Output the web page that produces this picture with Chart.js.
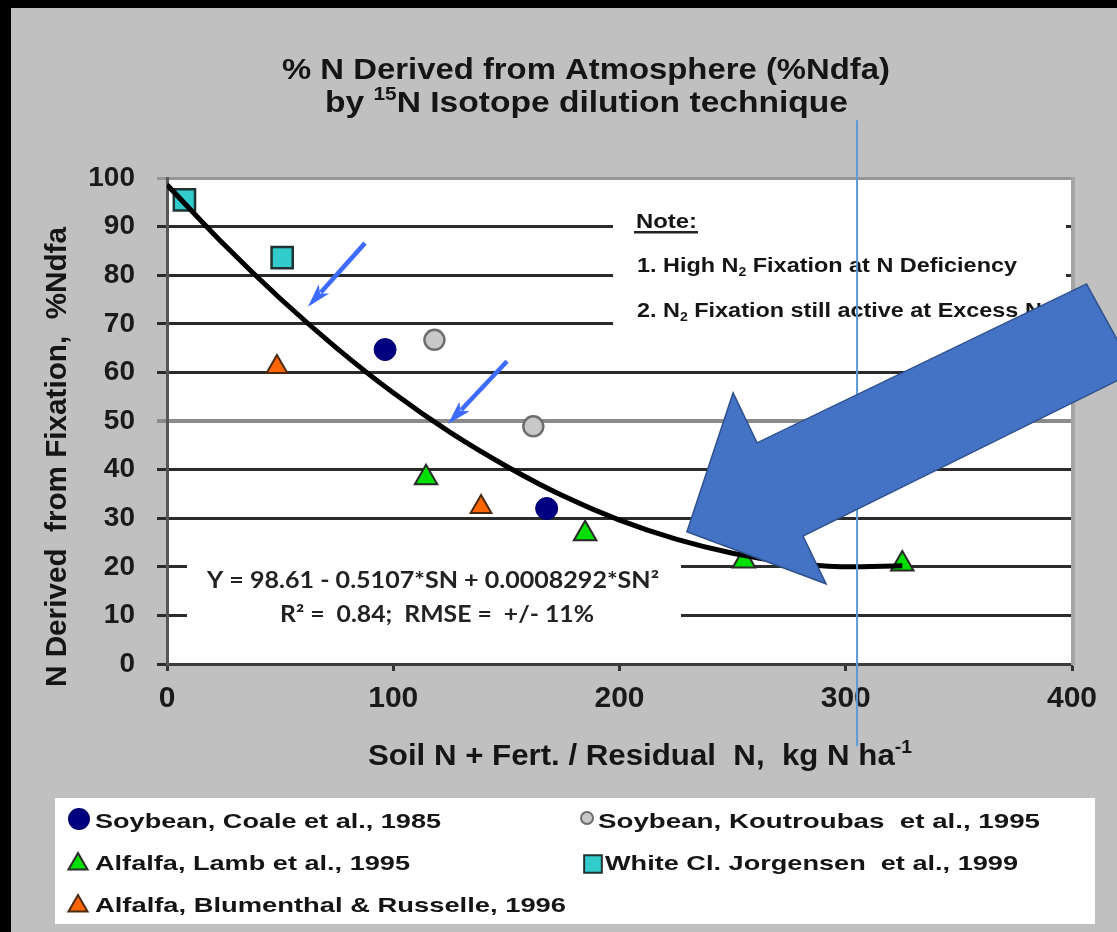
<!DOCTYPE html>
<html lang="en">
<head>
<meta charset="UTF-8">
<title>% N Derived from Atmosphere (%Ndfa)</title>
<style>
  html, body { margin: 0; padding: 0; background: #c0c0c0; overflow: hidden; }
</style>
</head>
<body>
<canvas id="myChart" width="1117" height="932"></canvas>
<script src="https://cdn.jsdelivr.net/npm/chart.js@4.4.1/dist/chart.umd.min.js"></script>
<script>
// values
const xTicks = [0, 100, 200, 300, 400];
const yTicks = [0, 10, 20, 30, 40, 50, 60, 70, 80, 90, 100];

// fitted curve as drawn (Y = 98.61 - 0.5107*SN + 0.0008292*SN^2)
const fitSN = [0, 25, 50, 75, 100, 125, 150, 175, 200, 225, 250, 275, 300, 325];
const fitNdfa = [98.6, 86.4, 75.2, 65.0, 55.8, 47.7, 40.7, 34.6, 29.6, 25.7, 22.8, 20.9, 20.0, 20.2];

const coaleSN = [96.4, 167.8];
const coaleNdfa = [64.7, 32.0];
const koutSN = [118.2, 161.9];
const koutNdfa = [66.7, 48.9];
const lambSN = [114.5, 184.8, 255, 325];
const lambNdfa = [38.3, 26.8, 21.2, 20.6];
const jorgSN = [7.7, 50.9];
const jorgNdfa = [95.5, 83.6];
const blumSN = [48.6, 138.8];
const blumNdfa = [61.1, 32.3];

const FONT = '"Liberation Sans", Arial, sans-serif';

function pts(xs, ys) {
    return xs.map((x, i) => ({ x: x, y: ys[i] }));
}

// draws text made of runs ['text', 'sup'|'sub'|''], stretched to a given width
function runsText(ctx, runs, x, y, o) {
    const fam = o.family || FONT;
    const setFont = k => {
        ctx.font = (o.weight || 'bold') + ' ' + (k ? Math.round(o.size * 0.62) : o.size) + 'px ' + fam;
    };
    let nat = 0;
    runs.forEach(r => { setFont(r[1]); nat += ctx.measureText(r[0]).width; });
    const sx = o.width != null ? o.width / nat : (o.sx || 1);
    ctx.save();
    ctx.translate(x, y);
    ctx.scale(sx, 1);
    ctx.fillStyle = o.color || '#151515';
    ctx.textAlign = 'left';
    ctx.textBaseline = 'alphabetic';
    let cx = 0;
    runs.forEach(r => {
        setFont(r[1]);
        const dy = r[1] === 'sup' ? -o.size * 0.4 : (r[1] === 'sub' ? o.size * 0.22 : 0);
        ctx.fillText(r[0], cx, dy);
        cx += ctx.measureText(r[0]).width;
    });
    ctx.restore();
    return sx;
}

function smallArrow(ctx, x1, y1, x2, y2) {
    const dx = x2 - x1, dy = y2 - y1;
    const len = Math.hypot(dx, dy);
    const ux = dx / len, uy = dy / len;
    const head = 24, half = 7;
    ctx.strokeStyle = '#3d6bff';
    ctx.fillStyle = '#3d6bff';
    ctx.lineWidth = 4.5;
    ctx.beginPath();
    ctx.moveTo(x1, y1);
    ctx.lineTo(x2 - ux * head * 0.8, y2 - uy * head * 0.8);
    ctx.stroke();
    ctx.beginPath();
    ctx.moveTo(x2, y2);
    ctx.lineTo(x2 - ux * head - uy * half, y2 - uy * head + ux * half);
    ctx.lineTo(x2 - ux * head * 0.75, y2 - uy * head * 0.75);
    ctx.lineTo(x2 - ux * head + uy * half, y2 - uy * head - ux * half);
    ctx.closePath();
    ctx.fill();
}

const slide = {
    id: 'slide',
    beforeDraw(chart) {
        const ctx = chart.ctx, a = chart.chartArea;
        ctx.save();
        ctx.fillStyle = '#c0c0c0';
        ctx.fillRect(0, 0, chart.width, chart.height);
        ctx.fillStyle = '#000';
        ctx.fillRect(0, 0, chart.width, 8);
        ctx.fillRect(0, 0, 11, chart.height);
        ctx.fillStyle = '#fff';
        ctx.fillRect(a.left, a.top, a.right - a.left, a.bottom - a.top);
        ctx.fillRect(55, 798, 1040, 126);
        ctx.restore();
    },
    beforeDatasetsDraw(chart) {
        const ctx = chart.ctx, a = chart.chartArea;
        ctx.save();
        // right frame of the plot
        ctx.fillStyle = '#a4a4a4';
        ctx.fillRect(a.right - 1, a.top - 1, 4, a.bottom - a.top + 2);

        // white text boxes
        ctx.fillStyle = '#fff';
        ctx.fillRect(613, 190, 453, 156);
        ctx.fillRect(187, 545, 494, 96);

        // title
        runsText(ctx, [['% N Derived from Atmosphere (%Ndfa)', '']], 282, 79, { size: 29, width: 608 });
        runsText(ctx, [['by ', ''], ['15', 'sup'], ['N Isotope dilution technique', '']], 325, 112, { size: 29, width: 523 });

        // axis titles
        runsText(ctx, [['Soil N + Fert. / Residual  N,  kg N ha', ''], ['-1', 'sup']], 368, 765, { size: 29, width: 544 });
        ctx.save();
        ctx.translate(66, 687);
        ctx.rotate(-Math.PI / 2);
        runsText(ctx, [['N Derived  from Fixation,  %Ndfa', '']], 0, 0, { size: 29, width: 460 });
        ctx.restore();

        // note
        runsText(ctx, [['Note:', '']], 636, 228, { size: 20, width: 61 });
        ctx.fillStyle = '#222';
        ctx.fillRect(634, 231, 64, 2.5);
        const sx = runsText(ctx, [['1. High N', ''], ['2', 'sub'], [' Fixation at N Deficiency', '']], 637, 272, { size: 20, width: 380 });
        runsText(ctx, [['2. N', ''], ['2', 'sub'], [' Fixation still active at Excess N', '']], 637, 317, { size: 20, sx: sx });

        // regression equation
        runsText(ctx, [['Y = 98.61 - 0.5107*SN + 0.0008292*SN\u00b2', '']], 207, 588, { size: 22, width: 452, family: 'Lato, sans-serif', color: '#222' });
        runsText(ctx, [['R\u00b2 =  0.84;  RMSE =  +/- 11%', '']], 280, 622, { size: 22, width: 314, family: 'Lato, sans-serif', color: '#222' });

        // legend
        const ds = chart.data.datasets;
        const items = [
            [1, 79, 819, 10, 95, 828, 346],
            [2, 587, 818, 6, 598, 828, 442],
            [3, 78, 864, 11, 95, 870, 315],
            [4, 593, 864, 12.5, 605, 870, 413],
            [5, 78, 906, 11, 95, 912, 471]
        ];
        items.forEach(it => {
            const d = ds[it[0]];
            ctx.fillStyle = d.backgroundColor;
            ctx.strokeStyle = d.borderColor;
            ctx.lineWidth = 2;
            Chart.helpers.drawPoint(ctx, { pointStyle: d.pointStyle, radius: it[3], rotation: 0, borderWidth: 2 }, it[1], it[2]);
            runsText(ctx, [[d.label, '']], it[4], it[5], { size: 21, width: it[6] });
        });
        ctx.restore();
    },
    afterDatasetsDraw(chart) {
        const ctx = chart.ctx;
        const xs = chart.scales.x, ys = chart.scales.y;
        const px = v => xs.getPixelForValue(v), py = v => ys.getPixelForValue(v);
        ctx.save();
        // small arrows pointing at the curve
        smallArrow(ctx, px(87.5), py(86.6), px(62.3), py(73.5));
        smallArrow(ctx, px(150.3), py(62.3), px(124.2), py(49.4));

        // thin vertical line
        ctx.strokeStyle = '#5b9bd5';
        ctx.lineWidth = 2;
        ctx.beginPath();
        ctx.moveTo(px(305), py(111.9));
        ctx.lineTo(px(305), py(-16.9));
        ctx.stroke();

        // big block arrow
        const bx = [229.8, 250.2, 260.8, 406.4, 427.8, 281.1, 291.3];
        const by = [27.2, 55.8, 45.5, 78.2, 60.1, 26.3, 16.5];
        ctx.beginPath();
        bx.forEach((v, i) => {
            if (i === 0) ctx.moveTo(px(v), py(by[i]));
            else ctx.lineTo(px(v), py(by[i]));
        });
        ctx.closePath();
        ctx.fillStyle = '#4472c4';
        ctx.fill();
        ctx.strokeStyle = '#2f528f';
        ctx.lineWidth = 1.5;
        ctx.stroke();
        ctx.restore();
    }
};

const ctx = document.getElementById('myChart');
const chart = new Chart(ctx, {
    type: 'scatter',
    data: {
        datasets: [{
            label: 'Fit',
            data: pts(fitSN, fitNdfa),
            showLine: true,
            borderColor: '#000',
            borderWidth: 5,
            pointRadius: 0,
            cubicInterpolationMode: 'monotone',
            fill: false
        }, {
            label: 'Soybean, Coale et al., 1985',
            data: pts(coaleSN, coaleNdfa),
            pointStyle: 'circle',
            pointRadius: 11,
            backgroundColor: '#000080',
            borderColor: '#000070',
            borderWidth: 1
        }, {
            label: 'Soybean, Koutroubas  et al., 1995',
            data: pts(koutSN, koutNdfa),
            pointStyle: 'circle',
            pointRadius: 10,
            backgroundColor: '#c8c8c8',
            borderColor: '#6e6e6e',
            borderWidth: 2.5
        }, {
            label: 'Alfalfa, Lamb et al., 1995',
            data: pts(lambSN, lambNdfa),
            pointStyle: 'triangle',
            pointRadius: 13,
            backgroundColor: '#00e000',
            borderColor: '#2a2a2a',
            borderWidth: 2
        }, {
            label: 'White Cl. Jorgensen  et al., 1999',
            data: pts(jorgSN, jorgNdfa),
            pointStyle: 'rect',
            pointRadius: 15,
            backgroundColor: '#33cccc',
            borderColor: '#1f3333',
            borderWidth: 2.5
        }, {
            label: 'Alfalfa, Blumenthal & Russelle, 1996',
            data: pts(blumSN, blumNdfa),
            pointStyle: 'triangle',
            pointRadius: 12,
            backgroundColor: '#ff6600',
            borderColor: '#4a2a10',
            borderWidth: 2
        }]
    },
    options: {
        responsive: false,
        animation: false,
        devicePixelRatio: 1,
        layout: { padding: { left: 11, top: 178, right: 45, bottom: 208 } },
        plugins: {
            legend: { display: false },
            title: { display: false },
            tooltip: { enabled: false }
        },
        scales: {
            x: {
                type: 'linear',
                min: 0,
                max: 400,
                afterBuildTicks: s => { s.ticks = xTicks.map(v => ({ value: v })); },
                afterFit: s => { s.height = 60; },
                grid: { drawOnChartArea: false, drawTicks: true, tickLength: 7, tickWidth: 3, tickColor: '#333' },
                border: { color: '#3c3c3c', width: 3 },
                ticks: { padding: 10, maxRotation: 0, color: '#1a1a1a', font: { family: FONT, size: 30, weight: 'bold' } }
            },
            y: {
                type: 'linear',
                min: 0,
                max: 100,
                afterBuildTicks: s => { s.ticks = yTicks.map(v => ({ value: v })); },
                afterFit: s => { s.width = 156; },
                grid: {
                    color: c => c.tick.value === 50 ? '#8a8a8a' : (c.tick.value === 100 ? '#959595' : '#2b2b2b'),
                    lineWidth: c => c.tick.value === 50 ? 4 : 3,
                    tickLength: 10
                },
                border: { color: '#555', width: 3 },
                ticks: { padding: 22, color: '#1a1a1a', font: { family: FONT, size: 28, weight: 'bold' } }
            }
        }
    },
    plugins: [slide]
});
</script>
</body>
</html>
